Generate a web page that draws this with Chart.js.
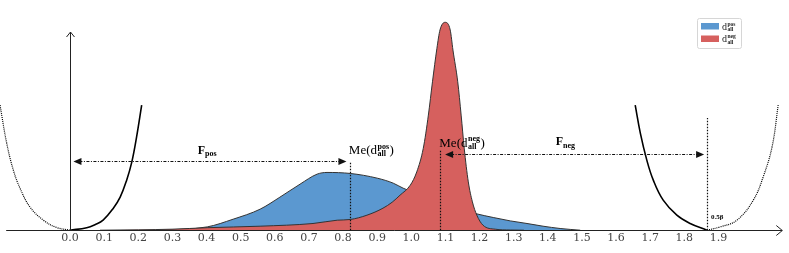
<!DOCTYPE html>
<html><head><meta charset="utf-8">
<script src="https://cdn.jsdelivr.net/npm/chart.js@4/dist/chart.umd.min.js"></script>
<style>html,body{margin:0;padding:0;background:#fff;overflow:hidden}#wrap{width:789px;height:253px}</style>
</head><body><div id="wrap"><canvas id="c" width="789" height="253"></canvas></div>
<script>
// ---- data ----
const tickValues = [0,0.1,0.2,0.3,0.4,0.5,0.6,0.7,0.8,0.9,1.0,1.1,1.2,1.3,1.4,1.5,1.6,1.7,1.8,1.9];
const tickLabels = ['0.0','0.1','0.2','0.3','0.4','0.5','0.6','0.7','0.8','0.9','1.0','1.1','1.2','1.3','1.4','1.5','1.6','1.7','1.8','1.9'];

// density of d_all^neg (red)
const negX = [0.088,0.20,0.299,0.402,0.557,0.712,0.783,0.821,0.870,0.917,0.944,0.967,0.997,1.016,1.035,1.050,1.062,1.075,1.084,1.099,1.114,1.122,1.136,1.146,1.155,1.167,1.179,1.192,1.210,1.246,1.290,1.33];
const negY = [0,0.02,0.05,0.125,0.2,0.335,0.5,0.535,0.75,1.1,1.4,1.75,2.25,2.915,4.085,5.75,7.415,9.085,10.0,10.385,10.0,9.0,7.415,5.75,4.1,2.415,1.415,0.75,0.25,0.05,0.01,0];
// density of d_all^pos (blue)
const posX = [0.264,0.402,0.478,0.557,0.615,0.674,0.724,0.753,0.821,0.900,0.947,0.976,1.046,1.114,1.187,1.240,1.290,1.339,1.386,1.436,1.495];
const posY = [0,0.165,0.55,1.05,1.65,2.3,2.8,2.885,2.835,2.6,2.35,2.1,1.65,1.2,0.835,0.635,0.465,0.335,0.2,0.085,0];

// penalty curves
const leftSolidX  = [0,0.049,0.073,0.097,0.127,0.147,0.166,0.181,0.195,0.210];
const leftSolidY  = [0,0.125,0.275,0.5,1.1,1.65,2.5,3.4,4.65,6.25];
const leftDotX    = [-0.205,-0.1855,-0.166,-0.1465,-0.117,-0.078,-0.039,0];
const leftDotY    = [6.25,4.35,3.0,2.1,1.15,0.5,0.135,0];
const rightSolidX = [1.656,1.671,1.690,1.709,1.738,1.778,1.817,1.866];
const rightSolidY = [6.25,4.85,3.5,2.5,1.5,0.75,0.335,0];
const rightDotX   = [1.866,1.905,1.954,2.002,2.031,2.057,2.075];
const rightDotY   = [0,0.165,0.5,1.5,2.665,4.165,6.25];

// annotations
const medianX   = [0.821, 1.084];
const medianTop = [3.4, 4.0];
const medianSup = ['pos','neg'];
const betaX = 1.866, betaTop = 5.6, betaLabel = '0.5β';
const spanFrom = [0.01, 1.099];
const spanTo   = [0.81, 1.858];
const spanY    = [3.45, 3.8];
const spanSub  = ['pos','neg'];
const legendSup = ['pos','neg'];
const legendSub = 'all';

const BLUE = '#5b98d0', RED = '#d6605e', INK = '#111';
const pts = (xs, ys) => xs.map((v,i)=>({x:v, y:ys[i]}));

function textSS(ctx, x, yb, base, sup, sub, size, supSize, supUp, subDown){
  ctx.font = size+'px "Liberation Serif", serif';
  ctx.textAlign='left'; ctx.textBaseline='alphabetic';
  ctx.fillText(base, x, yb);
  x += ctx.measureText(base).width;
  ctx.font = 'bold '+supSize+'px "Liberation Serif", serif';
  let w = 0;
  if (sup){ ctx.fillText(sup, x+0.5, yb - supUp); w = Math.max(w, ctx.measureText(sup).width); }
  if (sub){ ctx.fillText(sub, x+0.5, yb + subDown); w = Math.max(w, ctx.measureText(sub).width); }
  return x + w + 1;
}

const overlay = {
  id:'overlay',
  afterDatasetsDraw(chart){
    const {ctx, scales:{x, y}} = chart;
    const X = v => x.getPixelForValue(v), Y = v => y.getPixelForValue(v);
    ctx.save();
    ctx.strokeStyle = INK; ctx.fillStyle = INK;
    // axes
    const y0 = Math.round(Y(0))+0.5, x0 = Math.round(X(0))+0.5;
    ctx.lineWidth = 1; ctx.setLineDash([]);
    ctx.strokeStyle = '#222';
    ctx.beginPath(); ctx.moveTo(X(-0.187), y0); ctx.lineTo(X(2.087), y0); ctx.stroke();
    ctx.beginPath(); ctx.moveTo(X(2.087)-6, y0-5); ctx.lineTo(X(2.087), y0); ctx.lineTo(X(2.087)-6, y0+5); ctx.stroke();
    ctx.beginPath(); ctx.moveTo(x0, y0); ctx.lineTo(x0, Y(9.9)); ctx.stroke();
    ctx.beginPath(); ctx.moveTo(x0-4, Y(9.9)+5); ctx.lineTo(x0, Y(9.9)); ctx.lineTo(x0+4, Y(9.9)+5); ctx.stroke();
    ctx.strokeStyle = INK;

    // vertical dotted lines
    ctx.lineWidth = 1.2; ctx.setLineDash([1.5,1.5]);
    medianX.forEach((m,i)=>{ ctx.beginPath(); ctx.moveTo(Math.round(X(m))+0.5, Y(0)); ctx.lineTo(Math.round(X(m))+0.5, Y(medianTop[i])); ctx.stroke(); });
    ctx.beginPath(); ctx.moveTo(Math.round(X(betaX))+0.5, Y(0)); ctx.lineTo(Math.round(X(betaX))+0.5, Y(betaTop)); ctx.stroke();

    // span arrows (dash-dot)
    spanFrom.forEach((f,i)=>{
      const a = X(f), b = X(spanTo[i]), yy = Math.round(Y(spanY[i]))+0.5;
      ctx.lineWidth = 1; ctx.setLineDash([3,1.5,1,1.5]);
      ctx.beginPath(); ctx.moveTo(a+6, yy); ctx.lineTo(b-6, yy); ctx.stroke();
      ctx.setLineDash([]);
      ctx.beginPath(); ctx.moveTo(a, yy); ctx.lineTo(a+8, yy-3.5); ctx.lineTo(a+8, yy+3.5); ctx.closePath(); ctx.fill();
      ctx.beginPath(); ctx.moveTo(b, yy); ctx.lineTo(b-8, yy-3.5); ctx.lineTo(b-8, yy+3.5); ctx.closePath(); ctx.fill();
    });

    // labels
    ctx.fillStyle = '#000';
    const fPos = [[0.374, 3.83],[1.423, 4.25]];
    spanSub.forEach((s,i)=>{
      ctx.font = 'bold 12px "Liberation Serif", serif'; ctx.textAlign='left'; ctx.textBaseline='alphabetic';
      const px = X(fPos[i][0]), py = Y(fPos[i][1]);
      ctx.fillText('F', px, py);
      const w = ctx.measureText('F').width;
      ctx.font = 'bold 8px "Liberation Serif", serif';
      ctx.fillText(s, px+w, py+2.5);
    });
    const mePos = [[0.817, 3.8],[1.082, 4.17]];
    medianSup.forEach((s,i)=>{
      const end = textSS(ctx, X(mePos[i][0]), Y(mePos[i][1]), 'Me(d', s, 'all', 13, 8, 5.5, 2);
      ctx.font = '13px "Liberation Serif", serif';
      ctx.fillText(')', end, Y(mePos[i][1]));
    });
    ctx.font = 'bold 7px "Liberation Serif", serif';
    ctx.fillText(betaLabel, X(betaX)+4, Y(0.55));

    // legend
    ctx.setLineDash([]);
    ctx.strokeStyle = '#d6d6d6'; ctx.lineWidth = 1;
    ctx.beginPath(); ctx.roundRect(697.5, 18.5, 44, 30, 2); ctx.stroke();
    [BLUE, RED].forEach((c,i)=>{
      ctx.fillStyle = c; ctx.fillRect(701, 23+i*12.5, 18, 6.5);
      ctx.fillStyle = '#222';
      textSS(ctx, 722, 29.5+i*12.5, 'd', legendSup[i], legendSub, 10, 5.5, 4, 1.5);
    });
    ctx.restore();
  }
};

const lineDs = (data, dash, w) => ({data, type:'line', borderColor:'#000', borderWidth:w, borderDash:dash, pointRadius:0, fill:false, tension:0.4, order:0});

new Chart(document.getElementById('c'), {
  type:'line',
  data:{ datasets:[
    {label:'neg', data:pts(negX,negY), backgroundColor:RED, borderColor:'#333', borderWidth:1, fill:'origin', pointRadius:0, cubicInterpolationMode:'monotone', order:1},
    {label:'pos', data:pts(posX,posY), backgroundColor:BLUE, borderColor:'#333', borderWidth:1, fill:'origin', pointRadius:0, cubicInterpolationMode:'monotone', order:2},
    lineDs(pts(leftSolidX,leftSolidY), [], 1.6),
    lineDs(pts(leftDotX,leftDotY), [1,1], 1.2),
    lineDs(pts(rightSolidX,rightSolidY), [], 1.6),
    lineDs(pts(rightDotX,rightDotY), [1,1], 1.2)
  ]},
  options:{
    responsive:false, animation:false, devicePixelRatio:1,
    layout:{padding:{left:0,right:0,top:0,bottom:7.6}},
    plugins:{legend:{display:false}, tooltip:{enabled:false}},
    scales:{
      x:{type:'linear', min:-0.2051, max:2.1066,
        grid:{display:false, drawTicks:false}, border:{display:false},
        afterBuildTicks:(s)=>{ s.ticks = tickValues.map(v=>({value:v})); },
        ticks:{autoSkip:false, maxRotation:0, padding:1, color:'#444',
          font:{family:'"DejaVu Serif", serif', size:11},
          callback:(v,i)=>tickLabels[i]}},
      y:{display:false, min:0, max:11.5}
    }
  },
  plugins:[overlay]
});
</script></body></html>
